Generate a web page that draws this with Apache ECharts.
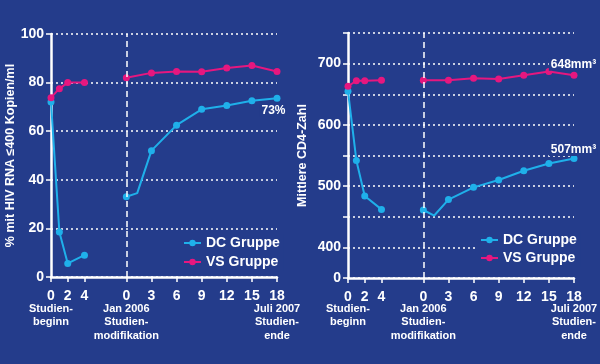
<!DOCTYPE html>
<html>
<head>
<meta charset="utf-8">
<script src="https://cdn.jsdelivr.net/npm/echarts@6/dist/echarts.min.js"></script>
<style>
html,body{margin:0;padding:0;background:#243c8b;}
#c{width:600px;height:364px;}
</style>
</head>
<body>
<div id="c"></div>
<script>
// ---- data ----
const seg2Offset = 9; // gap between study phases on the shared x axis
const months1 = [0, 1, 2, 4];
const dcMonths2 = [0, 1.3, 3, 6, 9, 12, 15, 18];
const vsMonths2 = [0, 3, 6, 9, 12, 15, 18];
const xTicks1 = [0, 2, 4];
const xTicks2 = [0, 3, 6, 9, 12, 15, 18];

const hivDC1 = [72, 18.5, 5.6, 9];
const hivDC2 = [33, 34.5, 52, 62.5, 69, 70.6, 72.5, 73.6];
const hivVS1 = [73.8, 77.5, 80, 80];
const hivVS2 = [82, 84, 84.6, 84.5, 86, 87, 84.6];

const cd4DC1 = [655, 542, 484, 462];
const cd4DC2 = [461, 452, 478, 498, 510, 525, 537, 545];
const cd4VS1 = [663, 672, 672, 673];
const cd4VS2 = [673, 673, 676, 675, 681, 687, 681];

const hivTicks = [0, 20, 40, 60, 80, 100];
const cd4Labels = [0, 400, 500, 600, 700];
const cd4GridMax = 750;
const cd4Break = 350;

const hivEndLabel = '73%';
const cd4DCEndLabel = '507mm³';
const cd4VSEndLabel = '648mm³';

const legendNames = ['DC Gruppe', 'VS Gruppe'];
// phase captions: [tick value on the x axis, text]
const phaseCaptions = [
  [0, 'Studien-\nbeginn'],
  [seg2Offset, 'Jan 2006\nStudien-\nmodifikation'],
  [seg2Offset + 18, 'Juli 2007\nStudien-\nende']
];

// ---- helpers ----
const FONT = "'Liberation Sans',Arial,sans-serif";
const WHITE = '#ffffff';
const CYAN = '#1fb0ea';
const MAGENTA = '#e6177f';
const BG = '#243c8b';

const cd4v = v => (v === 0 ? 0 : v - cd4Break);
const cd4real = v => (v === 0 ? 0 : v + cd4Break);

const xLabelValues = xTicks1.concat(xTicks2.map(m => m + seg2Offset));

function makeX(gridIndex) {
  return {
    type: 'value', gridIndex, min: 0, max: seg2Offset + 18,
    axisLine: { lineStyle: { color: WHITE, width: 2.5 } },
    axisTick: { show: true, length: 5, lineStyle: { color: WHITE, width: 1.5 }, customValues: xLabelValues },
    splitLine: { show: false },
    axisLabel: {
      customValues: xLabelValues, margin: 12,
      formatter: v => String(v >= seg2Offset ? v - seg2Offset : v),
      showMinLabel: true, showMaxLabel: true, hideOverlap: false,
      fontFamily: FONT, fontWeight: 'bold', fontSize: 14, color: WHITE
    }
  };
}

function pts(months, vals, offset, tf, skipIdx) {
  return months.map((m, i) => {
    const item = { value: [m + offset, tf ? tf(vals[i]) : vals[i]] };
    if (skipIdx !== undefined && i === skipIdx) item.symbol = 'none';
    return item;
  });
}

function lineSeries(name, color, gi, data, extra) {
  return Object.assign({
    type: 'line', name, xAxisIndex: gi, yAxisIndex: gi, data,
    symbol: 'circle', symbolSize: 7, showSymbol: true,
    lineStyle: { color, width: 2 }, itemStyle: { color },
    emphasis: { disabled: true }, animation: false, z: 3
  }, extra || {});
}

const vLine = {
  silent: true, symbol: 'none', label: { show: false },
  lineStyle: { color: WHITE, type: [6, 4], width: 1.5 },
  data: [{ xAxis: seg2Offset }]
};

const labelStyle = { fontFamily: FONT, fontWeight: 'bold', fontSize: 12, color: WHITE, backgroundColor: BG, padding: [0, 1, 0, 2] };

const hivDC2data = pts(dcMonths2, hivDC2, seg2Offset, null, 1);
hivDC2data[hivDC2data.length - 1].label = Object.assign({ show: true, position: 'bottom', distance: 3, offset: [-4, 0], formatter: hivEndLabel }, labelStyle);

const cd4DC2data = pts(dcMonths2, cd4DC2, seg2Offset, cd4v, 1);
cd4DC2data[cd4DC2data.length - 1].label = Object.assign({ show: true, position: 'top', distance: 3, offset: [-1, 4], formatter: cd4DCEndLabel }, labelStyle);
const cd4VS2data = pts(vsMonths2, cd4VS2, seg2Offset, cd4v);
cd4VS2data[cd4VS2data.length - 1].label = Object.assign({ show: true, position: 'top', distance: 3, offset: [-1, 2], formatter: cd4VSEndLabel }, labelStyle);

const yLabelStyle = { fontFamily: FONT, fontWeight: 'bold', fontSize: 14, color: WHITE, margin: 7 };
const nameStyle = { fontFamily: FONT, fontWeight: 'bold', fontSize: 12.5, color: WHITE };

const legendBase = {
  data: legendNames, orient: 'vertical', itemWidth: 17, itemHeight: 8,
  backgroundColor: BG, padding: [2, 4, 2, 2],
  textStyle: { fontFamily: FONT, fontWeight: 'bold', fontSize: 14, color: WHITE }, selectedMode: false
};

const option = {
  backgroundColor: BG,
  animation: false,
  grid: [
    { left: 51, top: 34, width: 226, height: 243 },
    { left: 348, top: 33, width: 226, height: 245 }
  ],
  xAxis: [makeX(0), makeX(1)],
  yAxis: [
    {
      type: 'value', gridIndex: 0, min: 0, max: 100, interval: 20,
      name: '% mit HIV RNA ≤400 Kopien/ml', nameLocation: 'middle', nameGap: 29,
      nameTextStyle: nameStyle,
      axisLine: { show: true, lineStyle: { color: WHITE, width: 2.5 } },
      axisTick: { show: true, length: 5, lineStyle: { color: WHITE, width: 1.5 } },
      axisLabel: Object.assign({ customValues: hivTicks, showMinLabel: true, showMaxLabel: true }, yLabelStyle),
      splitLine: { show: true, lineStyle: { color: WHITE, type: [2, 3], width: 1.5 } }
    },
    {
      type: 'value', gridIndex: 1, min: 0, max: cd4v(cd4GridMax), interval: 50,
      name: 'Mittlere CD4-Zahl', nameLocation: 'middle', nameGap: 39,
      nameTextStyle: nameStyle,
      axisLine: { show: true, lineStyle: { color: WHITE, width: 2.5 } },
      axisTick: { show: true, length: 5, lineStyle: { color: WHITE, width: 1.5 } },
      axisLabel: Object.assign({ customValues: cd4Labels.map(cd4v), showMinLabel: true, formatter: v => String(cd4real(v)) }, yLabelStyle),
      splitLine: { show: true, lineStyle: { color: WHITE, type: [2, 3], width: 1.5 } }
    }
  ],
  legend: [
    Object.assign({ left: 181, top: 234, itemGap: 5 }, legendBase),
    Object.assign({ left: 478, top: 231, itemGap: 4 }, legendBase)
  ],
  series: [
    lineSeries('DC Gruppe', CYAN, 0, pts(months1, hivDC1, 0)),
    lineSeries('DC Gruppe', CYAN, 0, hivDC2data, { markLine: vLine }),
    lineSeries('VS Gruppe', MAGENTA, 0, pts(months1, hivVS1, 0)),
    lineSeries('VS Gruppe', MAGENTA, 0, pts(vsMonths2, hivVS2, seg2Offset)),
    lineSeries('DC Gruppe', CYAN, 1, pts(months1, cd4DC1, 0, cd4v)),
    lineSeries('DC Gruppe', CYAN, 1, cd4DC2data, { markLine: vLine }),
    lineSeries('VS Gruppe', MAGENTA, 1, pts(months1, cd4VS1, 0, cd4v)),
    lineSeries('VS Gruppe', MAGENTA, 1, cd4VS2data)
  ]
};

const chart = echarts.init(document.getElementById('c'), null, { renderer: 'canvas' });
chart.setOption(option);

// phase captions under the x axes, positioned through the axis scale
const captionTop = 302;
const graphics = [];
[0, 1].forEach(gi => {
  phaseCaptions.forEach(([v, txt]) => {
    const px = chart.convertToPixel({ xAxisIndex: gi }, v);
    graphics.push({
      type: 'text', x: px, y: captionTop, silent: true,
      style: {
        text: txt, fill: WHITE, align: 'center', verticalAlign: 'top',
        fontFamily: FONT, fontWeight: 'bold', fontSize: 11, lineHeight: 13.5
      }
    });
  });
});
chart.setOption({ graphic: graphics });
</script>
</body>
</html>
